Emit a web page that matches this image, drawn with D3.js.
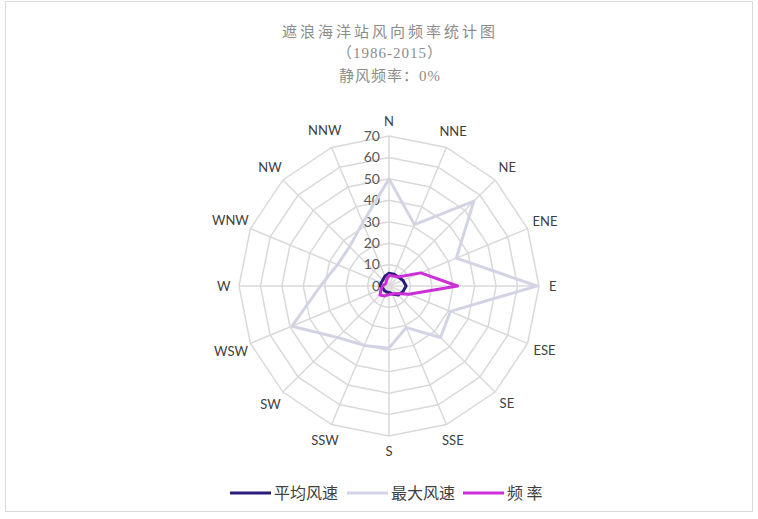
<!DOCTYPE html>
<html lang="zh">
<head>
<meta charset="UTF-8">
<title>遮浪海洋站风向频率统计图</title>
<script src="https://d3js.org/d3.v7.min.js"></script>
<style>
  body { margin: 0; background: #fff; }
</style>
</head>
<body>
<div id="chart"></div>
<script>
  // wind directions, clockwise from north
  var directions = ["N", "NNE", "NE", "ENE", "E", "ESE", "SE", "SSE",
                    "S", "SSW", "SW", "WSW", "W", "WNW", "NW", "NNW"];
  // series
  var meanSpeed = [6, 6, 6, 7, 8, 7, 6, 4, 3, 3, 3, 3, 4, 4, 4, 5];
  var maxSpeed  = [50, 31, 56, 34, 69, 31, 34, 21, 29, 30, 34, 49, 32, 26, 26, 32];
  var frequency = [5, 5, 6, 16, 32, 10, 5, 4, 4, 5, 6, 4, 3, 2, 2, 3];
  var ticks = [0, 10, 20, 30, 40, 50, 60, 70];
  var titleLines = ["遮浪海洋站风向频率统计图", "（1986-2015）", "静风频率：0%"];
  var legendNames = ["平均风速", "最大风速", "频 率"];

  var width = 758, height = 519;
  var cx = 389, cy = 286, R = 150;

  var svg = d3.select("#chart")
    .append("svg")
    .attr("width", width)
    .attr("height", height);

  // chart area border
  svg.append("rect")
    .attr("x", 5.5).attr("y", 1.5)
    .attr("width", 747).attr("height", 510)
    .attr("fill", "#fff")
    .attr("stroke", "#d9d9d9");

  // title
  svg.append("g")
    .selectAll("text")
    .data(titleLines)
    .enter()
    .append("text")
    .attr("x", cx + 1)
    .attr("y", function(d, i) { return [37, 58, 81][i]; })
    .attr("text-anchor", "middle")
    .style("font-family", "'Liberation Serif', 'Noto Sans CJK SC'")
    .style("font-size", "15px")
    .style("letter-spacing", function(d, i) { return i == 0 ? "3px" : "1px"; })
    .style("fill", "#8c8c8c")
    .text(function(d) { return d; });

  var r = d3.scaleLinear().domain([0, 70]).range([0, R]);
  var angle = d3.scaleLinear().domain([0, directions.length]).range([0, 2 * Math.PI]);

  var g = svg.append("g")
    .attr("transform", "translate(" + cx + "," + cy + ")");

  // grid rings (polygons)
  var ring = d3.lineRadial()
    .angle(function(d, i) { return angle(i); })
    .curve(d3.curveLinearClosed);

  g.append("g")
    .selectAll("path")
    .data(ticks.slice(1))
    .enter()
    .append("path")
    .attr("d", function(t) { return ring.radius(r(t))(directions); })
    .attr("fill", "none")
    .attr("stroke", "#d9d9d9")
    .attr("stroke-width", 1.5);

  // spokes
  g.append("g")
    .selectAll("line")
    .data(directions)
    .enter()
    .append("line")
    .attr("x1", 0).attr("y1", 0)
    .attr("x2", function(d, i) { return R * Math.sin(angle(i)); })
    .attr("y2", function(d, i) { return -R * Math.cos(angle(i)); })
    .attr("stroke", "#d9d9d9")
    .attr("stroke-width", 1.5);

  // value labels along north axis
  g.append("g")
    .selectAll("text")
    .data(ticks)
    .enter()
    .append("text")
    .attr("x", -9)
    .attr("y", function(t) { return -r(t); })
    .attr("dy", "0.35em")
    .attr("text-anchor", "end")
    .style("font-family", "Lato")
    .style("font-size", "14px")
    .style("fill", "#595959")
    .text(function(t) { return t; });

  // direction labels
  var lab = g.append("g")
    .selectAll("text")
    .data(directions)
    .enter()
    .append("text")
    .attr("text-anchor", "middle")
    .attr("dy", "0.35em")
    .style("font-family", "Lato")
    .style("font-size", "13px")
    .style("fill", "#404040")
    .text(function(d) { return d; });

  lab.each(function(d, i) {
    var a = angle(i);
    var w = this.getComputedTextLength();
    var rr = R + 12 + 0.5 * (6 * Math.abs(Math.cos(a)) + w / 2 * Math.abs(Math.sin(a)));
    d3.select(this)
      .attr("x", rr * Math.sin(a))
      .attr("y", -rr * Math.cos(a));
  });

  // series
  var series = [
    { name: legendNames[0], values: meanSpeed, color: "#2b1b7c" },
    { name: legendNames[1], values: maxSpeed,  color: "#d3d3e6" },
    { name: legendNames[2], values: frequency, color: "#cc2fd8" }
  ];

  var line = d3.lineRadial()
    .angle(function(d, i) { return angle(i); })
    .radius(function(d) { return r(d); })
    .curve(d3.curveLinearClosed);

  var drawOrder = [series[1], series[0], series[2]];
  g.append("g")
    .selectAll("path")
    .data(drawOrder)
    .enter()
    .append("path")
    .attr("d", function(s) { return line(s.values); })
    .attr("fill", "none")
    .attr("stroke", function(s) { return s.color; })
    .attr("stroke-width", 3)
    .attr("stroke-linejoin", "round");

  // legend
  var legendX = [230, 347, 463];
  var legend = svg.append("g")
    .selectAll("g")
    .data(series)
    .enter()
    .append("g")
    .attr("transform", function(d, i) { return "translate(" + legendX[i] + ",493)"; });

  legend.append("line")
    .attr("x1", 0).attr("x2", 41)
    .attr("y1", 0).attr("y2", 0)
    .attr("stroke", function(d) { return d.color; })
    .attr("stroke-width", 3);

  legend.append("text")
    .attr("x", 44)
    .attr("dy", "0.35em")
    .style("font-family", "'Noto Sans CJK SC'")
    .style("font-size", "16px")
    .style("fill", "#404040")
    .text(function(d) { return d.name; });
</script>
</body>
</html>
